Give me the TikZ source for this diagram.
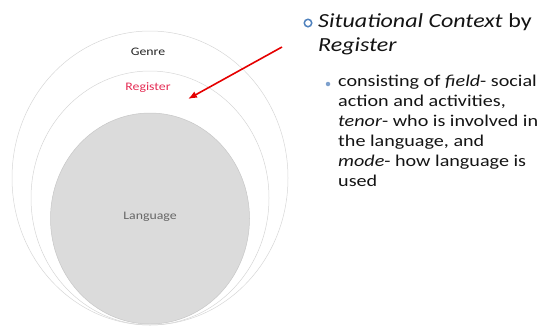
\documentclass[tikz,border=0pt]{standalone}
\usepackage{fontspec}
\setmainfont{Carlito}
\newfontfamily\widefont[FakeStretch=1.2]{Carlito}
\newfontfamily\widerfont[FakeStretch=1.22]{Carlito}
\usetikzlibrary{shapes.geometric, arrows.meta}
\definecolor{registerred}{RGB}{228,45,85}
\definecolor{bulletblue}{RGB}{79,129,189}
\definecolor{dotblue}{RGB}{125,160,205}

\begin{document}
\begin{tikzpicture}[x=1pt, y=1pt,
  ringnode/.style={draw=black!16, ellipse, inner sep=0pt, line width=0.5pt},
  ringlabel/.style={font=\widefont\fontsize{11.5}{13}\selectfont, inner sep=1pt},
  pointer/.style={draw=red!90!black, -{Latex[length=9pt,width=7pt]}, line width=1.6pt},
  bulletnode/.style={align=left, anchor=north west, inner sep=0pt, text=black!92},
]
  \useasboundingbox (0,0) rectangle (543,-325);
  \node[ringnode, minimum width=276pt, minimum height=294pt] (genre) at (150,-178) {};
  \node[ringnode, minimum width=238pt, minimum height=254pt] (register) at (150,-198) {};
  \node[ringnode, fill=black!14, draw=black!22, minimum width=199pt, minimum height=211pt] (language) at (150,-218.5) {};
  \node[ringlabel, text=black!85] (genrelabel) at (148,-52) {Genre};
  \node[ringlabel, text=registerred] (registerlabel) at (148,-88) {Register};
  \node[ringlabel, text=black!60] (languagelabel) at (150,-217) {Language};
  \coordinate (pointerstart) at (282,-47);
  \coordinate (pointerend) at (188,-99);
  \draw[pointer] (pointerstart) -- (pointerend);
  \node[circle, draw=bulletblue, line width=1.5pt, inner sep=0pt, minimum size=7.5pt] (mainbullet) at (308,-23) {};
  \node[bulletnode, font=\widefont\fontsize{20}{24}\selectfont] (maintext) at (318,-13) {\textit{Situational Context} by\\\textit{Register}};
  \node[circle, fill=dotblue, inner sep=0pt, minimum size=4.5pt] (subbullet) at (328,-84) {};
  \node[bulletnode, font=\widerfont\fontsize{16.5}{20}\selectfont] (subtext) at (338,-74.5) {consisting of \textit{field}- social\\action and activities,\\\textit{tenor}- who is involved in\\the language, and\\\textit{mode}- how language is\\used};
\end{tikzpicture}
\end{document}
